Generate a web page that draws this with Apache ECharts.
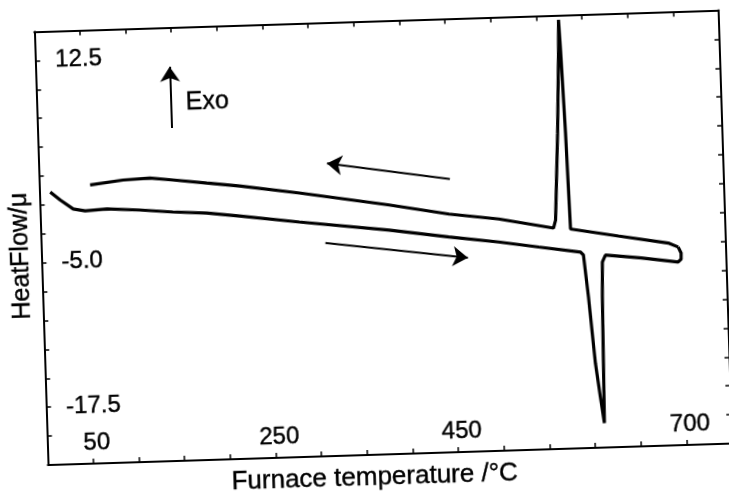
<!DOCTYPE html>
<html><head><meta charset="utf-8">
<script src="https://cdn.jsdelivr.net/npm/echarts@6/dist/echarts.min.js"></script>
<style>
html,body{margin:0;padding:0;background:#fff;overflow:hidden;width:729px;height:503px}
#c{width:729px;height:503px;transform:rotate(-1.8deg);transform-origin:50% 50%}
</style>
</head><body><div id="c"></div>
<script>
// Heating branch (lower trace, with endothermic dip), temperature / heat flow
const heatT  = [12.0, 22.7, 36.6, 49.6, 73.6, 109.6, 145.6, 182.6, 218.5, 283.8, 381.7, 447.0, 501.3, 544.8, 590.5, 593.6, 597.7, 603.0, 607.3, 610.8, 611.8, 612.9, 614.1, 617.7, 656.8, 697.1, 700.4, 700.6, 697.6];
const heatHF = [1.10, 0.38, -0.43, -0.63, -0.52, -0.70, -0.96, -1.14, -1.49, -2.17, -3.11, -3.87, -4.44, -4.98, -5.53, -5.80, -9.44, -15.17, -18.12, -20.38, -15.19, -9.48, -6.45, -5.86, -6.21, -6.66, -6.41, -5.89, -5.36];
// Cooling branch (upper trace, with exothermic peak)
const coolT  = [697.6, 686.8, 632.5, 580.4, 578.2, 575.6, 574.4, 573.4, 569.5, 564.3, 561.8, 502.1, 447.8, 382.6, 284.8, 219.6, 183.7, 146.7, 121.6, 92.1, 55.9];
const coolHF = [-5.36, -4.99, -4.25, -3.51, 4.80, 11.99, 14.60, 12.00, 4.82, -2.70, -3.38, -2.45, -1.89, -0.94, 0.34, 1.11, 1.45, 1.81, 2.04, 1.94, 1.60];
// Tick labels shown
const xTickLabels = [50, 250, 450, 700];
const yTickLabels = [12.5, -5.0, -17.5];
// Annotation arrows [startT, startHF, endT, endHF]
const arrows = [
  [147, 6.3, 147, 11.6],
  [450, 1.13, 316, 2.83],
  [311.5, -4.06, 467, -5.72]
];
const exoLabel = {text: 'Exo', T: 163.4, HF: 8.46};

const black = '#000';
const heatData = heatT.map((t, i) => [t, heatHF[i]]);
const coolData = coolT.map((t, i) => [t, coolHF[i]]);
const txt = {fontFamily: 'Liberation Sans', color: black, textBorderColor: black, textBorderWidth: 0.4};

const chart = echarts.init(document.getElementById('c'), null, {renderer: 'canvas'});
const axisCommonX = {
  type: 'value', min: 0, max: 750, interval: 50,
  axisLine: {show: true, onZero: false, lineStyle: {color: black, width: 2}},
  axisTick: {show: true, inside: true, length: 5, lineStyle: {color: black, width: 1.5}},
  splitLine: {show: false}
};
const axisCommonY = {
  type: 'value', min: -22.5, max: 15, interval: 2.5,
  axisLine: {show: true, onZero: false, lineStyle: {color: black, width: 2}},
  axisTick: {show: true, inside: true, length: 5, lineStyle: {color: black, width: 1.5}},
  splitLine: {show: false}
};
chart.setOption({
  animation: false,
  backgroundColor: '#fff',
  grid: {left: 41, right: 1, top: 21.5, bottom: 48, containLabel: false},
  xAxis: [
    Object.assign({}, axisCommonX, {
      position: 'bottom',
      name: 'Furnace temperature /°C', nameLocation: 'middle', nameGap: 10,
      nameTextStyle: Object.assign({fontSize: 26, padding: [0, 32, 0, 0]}, txt),
      axisLabel: Object.assign({
        show: true, inside: true, margin: 9, fontSize: 24, padding: [0, 0, 0, 8],
        formatter: v => xTickLabels.some(l => Math.abs(l - v) < 1e-6) ? String(v) : ''
      }, txt)
    }),
    Object.assign({}, axisCommonX, {position: 'top', axisLabel: {show: false}})
  ],
  yAxis: [
    Object.assign({}, axisCommonY, {
      position: 'left',
      name: 'HeatFlow/μ', nameLocation: 'middle', nameGap: -3,
      nameTextStyle: Object.assign({fontSize: 25, padding: [0, 14, 0, 0]}, txt),
      axisLabel: Object.assign({
        show: true, inside: true, margin: 20, fontSize: 24,
        formatter: v => yTickLabels.some(l => Math.abs(l - v) < 1e-6) ? v.toFixed(1) : ''
      }, txt)
    }),
    Object.assign({}, axisCommonY, {position: 'right', axisLabel: {show: false}})
  ],
  series: [
    {
      type: 'line', name: 'heating', data: heatData, showSymbol: false, symbol: 'none',
      lineStyle: {color: black, width: 3.2}, smooth: false, silent: true,
      markLine: {
        silent: true, symbol: ['none', 'arrow'], symbolSize: 15,
        label: {show: false},
        lineStyle: {color: black, width: 2, type: 'solid', opacity: 1},
        itemStyle: {color: black},
        data: arrows.map(a => [{coord: [a[0], a[1]]}, {coord: [a[2], a[3]]}])
      }
    },
    {
      type: 'line', name: 'cooling', data: coolData, showSymbol: false, symbol: 'none',
      lineStyle: {color: black, width: 3.2}, smooth: false, silent: true
    },
    {
      type: 'scatter', data: [[exoLabel.T, exoLabel.HF]], symbolSize: 0, silent: true,
      itemStyle: {opacity: 1, color: black},
      label: Object.assign({show: true, formatter: exoLabel.text, position: 'right', distance: 0,
        fontSize: 25, opacity: 1}, txt)
    }
  ]
});
</script>
</body></html>
